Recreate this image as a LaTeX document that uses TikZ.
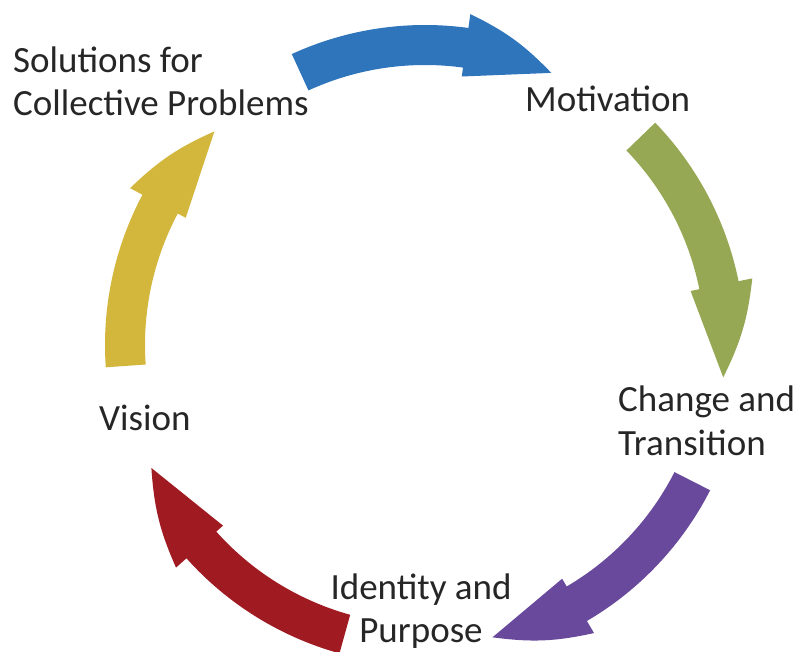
\documentclass[tikz,border=0pt]{standalone}
\usepackage{fontspec}
\setmainfont{Carlito}
\definecolor{cblue}{RGB}{47,117,187}
\definecolor{cgreen}{RGB}{150,168,84}
\definecolor{cpurple}{RGB}{104,73,155}
\definecolor{cred}{RGB}{160,27,33}
\definecolor{cyellow}{RGB}{210,183,60}
\definecolor{ctext}{RGB}{38,38,38}
\newcommand\cycarrow[4]{%
  \fill[#1] (#2:320pt) arc[start angle=#2, end angle=#3, radius=320pt]
    -- (#3:334pt) to[bend left=10] (#4:300pt) -- (#3:271pt) -- (#3:280pt)
    arc[start angle=#3, end angle=#2, radius=280pt] -- cycle;}
\tikzset{lbl/.style={inner sep=0pt, text=ctext, font=\fontsize{37}{44}\selectfont}}
\begin{document}
\begin{tikzpicture}[x=1pt,y=1pt]
\useasboundingbox (0,0) rectangle (800,652);
\begin{scope}[shift={(425,307)}]
  \cycarrow{cblue}{114.6}{82.2}{65.1}
  \cycarrow{cgreen}{44}{11.5}{-6.2}
  \cycarrow{cpurple}{-27}{-59.6}{-77}
  \cycarrow{cred}{-105.5}{-138.2}{-155.8}
  \cycarrow{cyellow}{184}{152}{134.6}
\end{scope}
\node[lbl, anchor=base west] (sol1) at (13,579) {Solutions for};
\node[lbl, anchor=base west] (sol2) at (13,536) {Collective Problems};
\node[lbl, anchor=base west] (mot) at (525,540) {Motivation};
\node[lbl, anchor=base west] (chg1) at (618,240) {Change and};
\node[lbl, anchor=base west] (chg2) at (618,196) {Transition};
\node[lbl, anchor=base] (idn1) at (421,52) {Identity and};
\node[lbl, anchor=base] (idn2) at (421,9) {Purpose};
\node[lbl, anchor=base west] (vis) at (99,221) {Vision};
\end{tikzpicture}
\end{document}
